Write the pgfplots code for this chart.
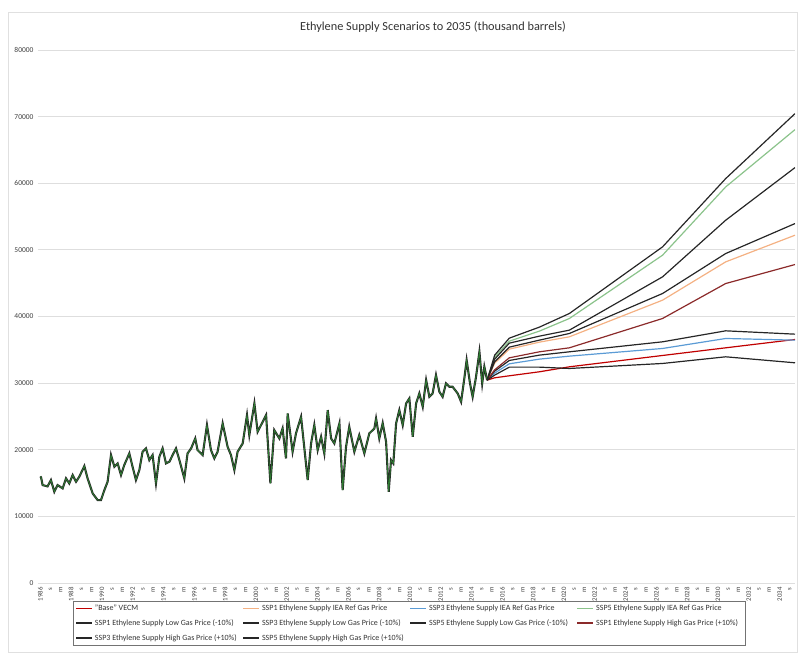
\documentclass[border=0pt]{standalone}
\usepackage{fontspec}
\setmainfont{Carlito}
\usepackage{pgfplots}
\pgfplotsset{compat=1.18}
\usepackage{pgfplotstable}

\definecolor{vecmred}{HTML}{C00000}
\definecolor{sspo}{HTML}{F4B183}
\definecolor{sspb}{HTML}{5B9BD5}
\definecolor{sspg}{HTML}{8BC38B}
\definecolor{sspdr}{HTML}{8B2A2A}
\definecolor{blk}{HTML}{262626}
\definecolor{histg}{HTML}{2E7D32}

\pgfplotstableread{
x y
1986.00 16000
1986.05 15850
1986.15 14700
1986.47 14500
1986.69 15450
1986.91 13700
1987.12 14700
1987.45 14200
1987.67 15700
1987.88 14950
1988.10 16200
1988.32 15200
1988.53 15950
1988.86 17550
1989.07 15700
1989.40 13450
1989.72 12450
1989.94 12450
1990.16 13950
1990.37 15200
1990.59 19200
1990.81 17450
1991.02 17950
1991.24 16200
1991.45 17700
1991.78 19450
1991.99 17450
1992.21 15450
1992.43 16950
1992.64 19700
1992.86 20200
1993.08 18450
1993.29 19200
1993.51 14950
1993.73 18950
1993.94 20200
1994.16 17950
1994.38 18200
1994.59 19200
1994.81 20200
1995.03 18450
1995.35 15700
1995.56 19450
1995.79 20200
1996.06 21700
1996.21 19950
1996.54 19200
1996.82 23700
1997.08 19950
1997.30 18700
1997.51 19700
1997.84 23950
1998.16 20450
1998.38 19200
1998.60 16950
1998.81 19700
1999.14 20950
1999.42 25200
1999.57 22200
1999.90 26950
2000.11 22700
2000.33 23700
2000.66 25200
2000.94 14950
2001.19 22950
2001.52 21700
2001.73 23200
2001.95 18700
2002.06 25450
2002.38 19700
2002.60 22450
2002.93 24950
2003.36 15450
2003.58 20950
2003.79 23700
2004.01 19950
2004.23 21950
2004.44 19450
2004.66 25950
2004.88 21700
2005.09 20950
2005.42 23950
2005.63 13950
2005.85 20450
2006.06 23450
2006.39 19700
2006.71 22200
2007.04 19450
2007.36 22450
2007.69 23200
2007.80 24700
2008.01 21700
2008.23 24000
2008.45 21200
2008.62 13700
2008.77 18450
2008.92 17950
2009.10 23950
2009.31 25950
2009.53 23700
2009.75 26950
2009.96 27700
2010.18 21950
2010.40 26950
2010.61 28450
2010.83 26450
2011.05 30450
2011.26 27950
2011.47 28450
2011.69 31200
2011.91 28700
2012.12 27950
2012.34 29950
2012.56 29450
2012.77 29450
2013.10 28450
2013.32 27200
2013.53 30700
2013.68 33450
2013.90 29950
2014.07 27950
2014.29 30950
2014.51 34700
2014.69 29950
2014.83 32450
2015.01 30450
}\hist

\pgfplotstableread{
x vecm s1ref s3ref s5ref s1low s3low s5low s1high s3high s5high
2015.01 30450 30450 30450 30450 30450 30450 30450 30450 30450 30450
2015.50 30800 33000 31500 33900 33200 31800 34200 32000 31200 33600
2016.45 31100 35100 32900 36300 35400 33400 36750 33800 32400 36000
2018.40 31700 36150 33600 37800 36450 34200 38400 34700 32400 37050
2020.35 32450 36950 34050 39700 37450 34700 40450 35300 32200 37950
2026.40 34150 42450 35200 49200 43450 36200 50450 39700 32950 45950
2030.50 35300 48200 36700 59450 49450 37850 60700 44950 33950 54450
2035.00 36550 52200 36450 68050 53950 37350 70450 47800 33050 62350
}\fc

\def\xtl{1986,1986.6667,1987.3333}
\def\xtn{1986,s,m}
\foreach \y in {1988,1990,...,2032}{%
  \pgfmathtruncatemacro\yy{\y+1}%
  \xdef\xtl{\xtl,\y,\y.6667,\yy.3333}%
  \xdef\xtn{\xtn,\y,s,m}%
}
\xdef\xtl{\xtl,2034,2034.6667}
\xdef\xtn{\xtn,2034,s}

\newcommand{\LE}[1]{\makebox[145.5pt][l]{#1}}

\begin{document}
\begin{tikzpicture}[x=1pt,y=1pt]
\path[use as bounding box] (-38pt,-70pt) rectangle (760pt,583pt);
\draw[black!12, line width=0.6pt] (-30pt,-69pt) rectangle (759pt,571pt);
\begin{axis}[
  at={(0pt,0pt)}, anchor=origin,
  scale only axis,
  width=757pt, height=533pt,
  xmin=1985.85, xmax=2035,
  ymin=0, ymax=80000,
  axis line style={draw=none},
  ytick={0,10000,...,80000},
  ymajorgrids,
  grid style={black!13, line width=0.8pt},
  major tick length=0pt,
  scaled y ticks=false,
  /pgf/number format/assume math mode=true,
  /pgf/number format/set thousands separator={},
  yticklabel style={font=\fontsize{7.5}{8}\selectfont, text=black!75, xshift=-1pt},
  xtick/.expanded={\xtl},
  xticklabels/.expanded={\xtn},
  xticklabel style={rotate=90, anchor=east, font=\fontsize{6.8}{7}\selectfont, text=black!75, xshift=-1pt},
  every axis title shift=0pt,
  title={Ethylene Supply Scenarios to 2035 (thousand barrels)},
  title style={at={(0.5218,1.0432)}, anchor=center, font=\fontsize{12.3}{14}\selectfont, text=black!80},
  legend columns=4,
  legend style={at={(0.4908,-0.0330)}, anchor=north, draw=black!55, line width=0.6pt,
    font=\fontsize{8}{9.6}\selectfont, text=black!80, row sep=3.4pt, inner sep=2pt,
    /tikz/every even column/.append style={column sep=0pt}},
  legend cell align=left,
  legend image code/.code={\draw[#1, line width=1.6pt] (0pt,0pt) -- (16pt,0pt);},
]
\addplot[blk, line width=2.1pt, forget plot] table[x=x,y=y] {\hist};
\addplot[histg, line width=0.8pt, forget plot] table[x=x,y=y] {\hist};

\addplot[vecmred, line width=1.2pt] table[x=x,y=vecm] {\fc};
\addlegendentry{\LE{"Base" VECM}}
\addplot[sspo, line width=1.2pt] table[x=x,y=s1ref] {\fc};
\addlegendentry{\LE{SSP1 Ethylene Supply IEA Ref Gas Price}}
\addplot[sspb, line width=1.2pt] table[x=x,y=s3ref] {\fc};
\addlegendentry{\LE{SSP3 Ethylene Supply IEA Ref Gas Price}}
\addplot[sspg, line width=1.2pt] table[x=x,y=s5ref] {\fc};
\addlegendentry{\LE{SSP5 Ethylene Supply IEA Ref Gas Price}}
\addplot[blk, line width=1.2pt] table[x=x,y=s1low] {\fc};
\addlegendentry{\LE{SSP1 Ethylene Supply Low Gas Price (-10\%)}}
\addplot[blk, line width=1.2pt] table[x=x,y=s3low] {\fc};
\addlegendentry{\LE{SSP3 Ethylene Supply Low Gas Price (-10\%)}}
\addplot[blk, line width=1.2pt] table[x=x,y=s5low] {\fc};
\addlegendentry{\LE{SSP5 Ethylene Supply Low Gas Price (-10\%)}}
\addplot[sspdr, line width=1.2pt] table[x=x,y=s1high] {\fc};
\addlegendentry{\LE{SSP1 Ethylene Supply High Gas Price (+10\%)}}
\addplot[blk, line width=1.2pt] table[x=x,y=s3high] {\fc};
\addlegendentry{\LE{SSP3 Ethylene Supply High Gas Price (+10\%)}}
\addplot[blk, line width=1.2pt] table[x=x,y=s5high] {\fc};
\addlegendentry{\LE{SSP5 Ethylene Supply High Gas Price (+10\%)}}
\end{axis}
\end{tikzpicture}
\end{document}
